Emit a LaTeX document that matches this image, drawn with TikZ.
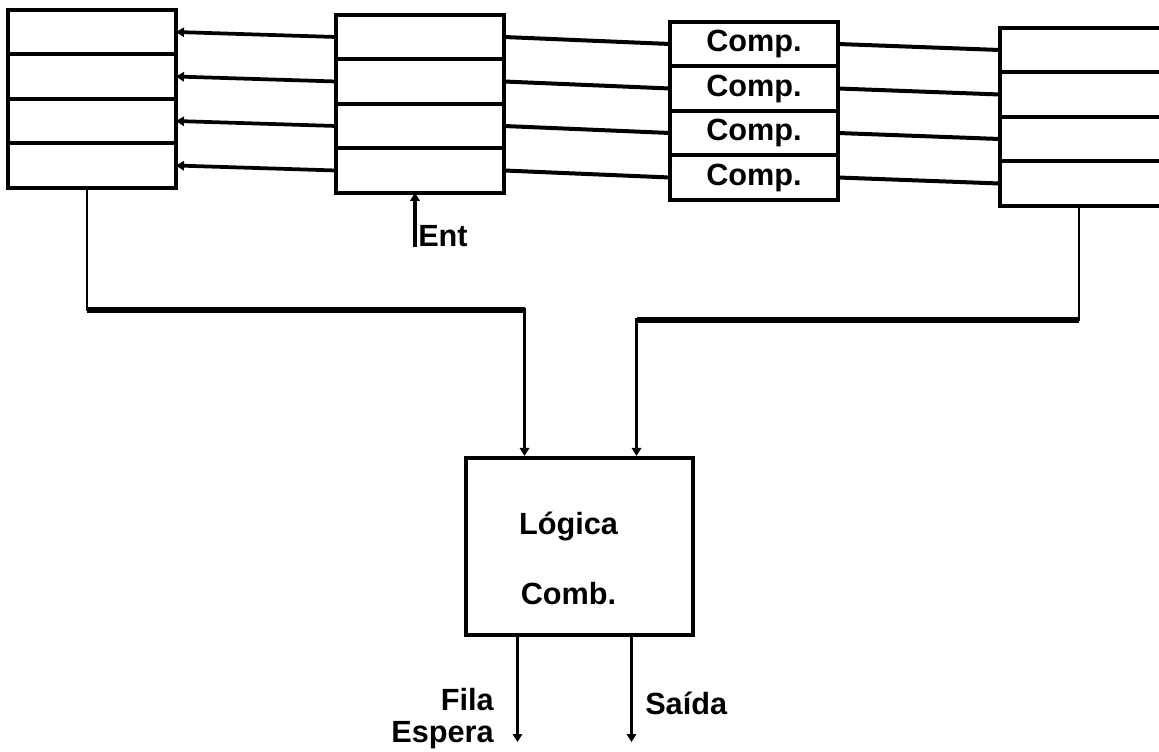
\documentclass[tikz,border=0pt]{standalone}
\usepackage{fontspec}
\setmainfont{Liberation Sans}
\usetikzlibrary{positioning,arrows.meta,calc}
\newcommand{\lbfont}{\bfseries\fontsize{23}{24}\selectfont}
\tikzset{
  cell/.style={draw,line width=3.2pt,minimum width=126pt,minimum height=33.4pt,
    inner sep=0pt,outer sep=0pt,font=\lbfont},
  logic-box/.style={draw,line width=2.8pt,minimum width=170pt,minimum height=133pt},
  wire/.style={line width=3pt},
  wire-arrow/.style={line width=2.8pt,-{Triangle[length=6pt,width=7pt]}},
  wire-bus/.style={line width=2.2pt,-{Triangle[length=6pt,width=7pt]}},
  wire-bar/.style={line width=4.4pt},
  lbl/.style={font=\lbfont,inner sep=0pt},
}

\begin{document}
\begin{tikzpicture}[x=0.75pt,y=-0.75pt]
  \useasboundingbox[fill=white] (0,0) rectangle (1159,752);

  % registradores e comparadores
  \foreach \i in {1,...,4} {
    \node[cell] (a\i) at (92,{32+44.5*(\i-1)}) {};
    \node[cell] (b\i) at (420,{37+44.5*(\i-1)}) {};
    \node[cell] (c\i) at (754,{44+44.5*(\i-1)}) {Comp.};
    \node[cell,minimum width=128pt] (d\i) at (1085,{50+44.5*(\i-1)}) {};
  }
  \foreach \i in {1,...,4} {
    \draw[wire-arrow] (b\i.west) -- (a\i.east);
    \draw[wire] (b\i.east) -- (c\i.west);
    \draw[wire] (c\i.east) -- (d\i.west);
  }

  \node[logic-box] (logic) at (579.5,546.5) {};
  \node[lbl,align=center] (logictxt) at ($(logic.center)+(-11,12)$) {Lógica\\[28pt]Comb.};

  % entrada
  \coordinate (ent) at ($(b4.south)+(-5,54)$);
  \draw[wire-arrow] (ent) -- ($(b4.south)+(-5,0)$);
  \node[lbl,anchor=base west] (entlbl) at ($(ent)+(3,0)$) {Ent};

  % barramentos para a logica
  \coordinate (outL) at ($(a4.south)+(-5,0)$);
  \coordinate (kL) at ($(outL)+(0,122)$);
  \coordinate (inL) at ($(logic.north)+(-55,0)$);
  \draw[wire-bus] (outL) -- (kL) -| (inL);
  \draw[wire-bar] (kL) -- (kL -| inL);

  \coordinate (outR) at ($(d4.south)+(-6,0)$);
  \coordinate (kR) at ($(outR)+(0,114)$);
  \coordinate (inR) at ($(logic.north)+(57,0)$);
  \draw[wire-bus] (outR) -- (kR) -| (inR);
  \draw[wire-bar] (kR) -- (kR -| inR);

  % saidas
  \coordinate (fila) at ($(logic.south)+(-62,105)$);
  \coordinate (said) at ($(logic.south)+(52,105)$);
  \draw[wire-bus] (fila |- logic.south) -- (fila);
  \draw[wire-bus] (said |- logic.south) -- (said);
  \node[lbl,align=right,anchor=east] (filalbl) at (494,719) {Fila\\Espera};
  \node[lbl,anchor=west] (saidlbl) at (645,703) {Saída};
\end{tikzpicture}
\end{document}
